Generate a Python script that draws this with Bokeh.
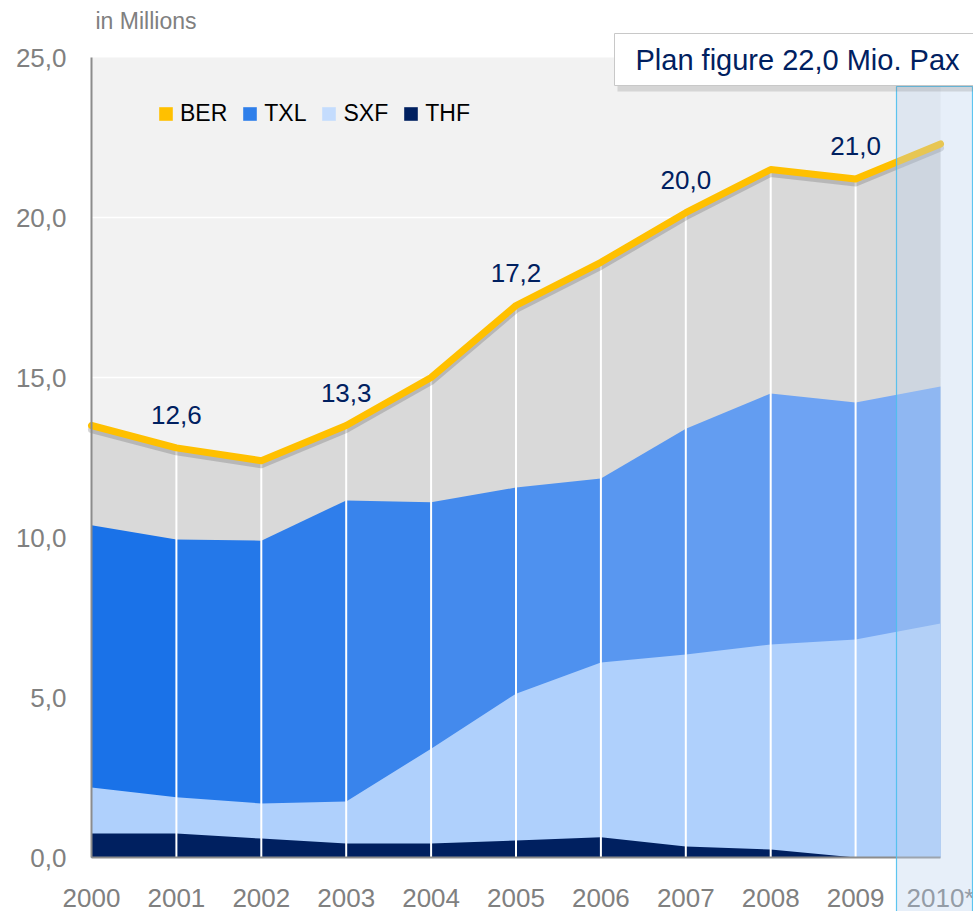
from bokeh.plotting import figure
from bokeh.models import Range1d, Legend, LegendItem, Label, BoxAnnotation
from bokeh.core.properties import value
from bokeh.embed import file_html
from bokeh.resources import INLINE

# ---------------- data ----------------
years = [2000, 2001, 2002, 2003, 2004, 2005, 2006, 2007, 2008, 2009, 2010]
x_labels = ["2000", "2001", "2002", "2003", "2004", "2005", "2006",
            "2007", "2008", "2009", "2010*"]
ber = [13.5, 12.8, 12.4, 13.5, 15.0, 17.25, 18.6, 20.15, 21.5, 21.2, 22.3]
txl = [10.38, 9.94, 9.9, 11.16, 11.1, 11.56, 11.84, 13.4, 14.5, 14.22, 14.72]
sxf = [2.19, 1.88, 1.69, 1.75, 3.4, 5.12, 6.09, 6.34, 6.66, 6.81, 7.31]
thf = [0.75, 0.75, 0.59, 0.44, 0.44, 0.53, 0.63, 0.34, 0.25, 0.0, 0.0]
label_years = [2001, 2003, 2005, 2007, 2009]
label_texts = ["12,6", "13,3", "17,2", "20,0", "21,0"]
y_ticks = [0, 5, 10, 15, 20, 25]
y_tick_labels = ["0,0", "5,0", "10,0", "15,0", "20,0", "25,0"]
series_names = ["BER", "TXL", "SXF", "THF"]
plan_text = "Plan figure 22,0 Mio. Pax"
unit_text = "in Millions"

# ---------------- styles / layout ----------------
FONT = "Liberation Sans"
C_BER = "#ffc000"
C_GREY = "#d9d9d9"
C_BG = "#f2f2f2"
C_TXL_START = (0x1a, 0x72, 0xe8)
C_TXL_END = (0x78, 0xa9, 0xf4)
C_SXF = "#afd0fc"
C_THF = "#002060"
C_NAVY_TEXT = "#002060"
C_AXIS_TEXT = "#808080"
C_AXIS_LINE = "#8c8c8c"

W, H = 973, 911
X0_PX, PX_PER_YEAR = 91, 84.9       # pixel of first year, pixels per year
Y0_PX, PX_PER_UNIT = 857, 32.0      # pixel of value 0, pixels per million


def xd(px):   # page pixel -> data x (for annotation placement only)
    return years[0] + (px - X0_PX) / PX_PER_YEAR


def yd(py):   # page pixel -> data y (for annotation placement only)
    return (Y0_PX - py) / PX_PER_UNIT


p = figure(width=W, height=H, output_backend="svg", toolbar_location=None,
           x_range=Range1d(xd(0), xd(W)), y_range=Range1d(yd(H), yd(0)),
           x_axis_location=None, y_axis_location=None,
           min_border_left=0, min_border_top=0,
           min_border_right=0, min_border_bottom=0)
p.background_fill_color = "white"
p.border_fill_color = "white"
p.outline_line_color = None
p.grid.visible = False

# shifted range for the line shadow (a few px lower)
shadow_shift = 4 / PX_PER_UNIT
p.extra_y_ranges = {"shadow": Range1d(yd(H) + shadow_shift, yd(0) + shadow_shift)}

# plot background
p.quad(left=years[0], right=years[-1], bottom=y_ticks[0], top=y_ticks[-1],
       fill_color=C_BG, line_color=None)
# horizontal grid lines
p.segment(x0=[years[0]] * (len(y_ticks) - 2), x1=[years[-1]] * (len(y_ticks) - 2),
          y0=y_ticks[1:-1], y1=y_ticks[1:-1], line_color="white", line_width=1.5)

# BER grey area
p.varea(x=years, y1=[0] * len(years), y2=ber, fill_color=C_GREY)

# TXL area, segment-wise colour (horizontal gradient)
n = len(years) - 1
for i in range(n):
    t = i / (n - 1)
    c = tuple(int(round(a + (b - a) * t)) for a, b in zip(C_TXL_START, C_TXL_END))
    col = "#%02x%02x%02x" % c
    p.varea(x=years[i:i + 2], y1=[0, 0], y2=txl[i:i + 2], fill_color=col)

# SXF, THF
p.varea(x=years, y1=[0] * len(years), y2=sxf, fill_color=C_SXF)
p.varea(x=years, y1=[0] * len(years), y2=thf, fill_color=C_THF)

# vertical white lines up to BER line
p.segment(x0=years[1:-1], x1=years[1:-1], y0=[0] * (len(years) - 2), y1=ber[1:-1],
          line_color="white", line_width=2)

# BER line with shadow
p.line(years, ber, line_color="#555555", line_alpha=0.25, line_width=7,
       line_join="round", line_cap="round", y_range_name="shadow")
p.line(years, ber, line_color=C_BER, line_width=7, line_join="round", line_cap="round")

# data labels
label_vals = [ber[years.index(y)] for y in label_years]
p.text(x=label_years, y=label_vals, text=label_texts, y_offset=-33,
       text_align="center", text_baseline="middle", text_color=C_NAVY_TEXT,
       text_font=value(FONT), text_font_size="26px")

# x axis line and labels
p.segment(x0=[years[0]], x1=[years[-1]], y0=[y_ticks[0]], y1=[y_ticks[0]],
          line_color=C_AXIS_LINE, line_width=2)
p.text(x=years, y=[y_ticks[0]] * len(years), text=x_labels, y_offset=40,
       text_align="center", text_baseline="middle", text_color=C_AXIS_TEXT,
       text_font=value(FONT), text_font_size="26px")

# y axis line and labels
p.segment(x0=[years[0]], x1=[years[0]], y0=[y_ticks[0]], y1=[y_ticks[-1]],
          line_color=C_AXIS_LINE, line_width=2)
p.text(x=[years[0]] * len(y_ticks), y=y_ticks, text=y_tick_labels, x_offset=-25,
       text_align="right", text_baseline="middle", text_color=C_AXIS_TEXT,
       text_font=value(FONT), text_font_size="26px")

# highlight of the plan year
hl = BoxAnnotation(left=xd(896), right=xd(972), top=yd(86), bottom=yd(H + 20),
                   fill_color="#b9d2ee", fill_alpha=0.35,
                   line_color="#4cbfee", line_alpha=0.9, line_width=1.2)
p.add_layout(hl)

# legend (zero-height dummy renderers for square swatches)
leg_colors = [C_BER, "#2f7fea", "#c4dcfd", C_THF]
items = []
for name, col in zip(series_names, leg_colors):
    r = p.varea(x=[years[0]], y1=[y_ticks[0]], y2=[y_ticks[0]], fill_color=col)
    items.append(LegendItem(label=name, renderers=[r]))
legend = Legend(items=items, orientation="horizontal", location=(157, 784),
                border_line_color=None, background_fill_alpha=0, padding=0, margin=0,
                spacing=14, label_standoff=6, glyph_width=17, glyph_height=17,
                label_text_font=FONT, label_text_font_size="23px",
                label_text_color="#000000")
p.add_layout(legend)

# callout box with soft shadow
p.add_layout(BoxAnnotation(left=xd(617), right=xd(990), top=yd(37), bottom=yd(91),
                           fill_color="#808080", fill_alpha=0.25, line_color=None))
pad = dict(left=21, right=30, top=10, bottom=10)
callout = Label(x=xd(614), y=yd(33), text=plan_text, text_align="left", text_baseline="top",
                text_font=FONT, text_font_size="29px", text_color=C_NAVY_TEXT,
                background_fill_color="white", border_line_color="#c8c8c8",
                border_line_width=1, padding=pad)
p.add_layout(callout)

# unit label
p.add_layout(Label(x=xd(95), y=yd(20), text=unit_text, text_align="left",
                   text_baseline="middle", text_font=FONT, text_font_size="23px",
                   text_color=C_AXIS_TEXT))

open("out.html", "w").write(file_html(p, INLINE))
